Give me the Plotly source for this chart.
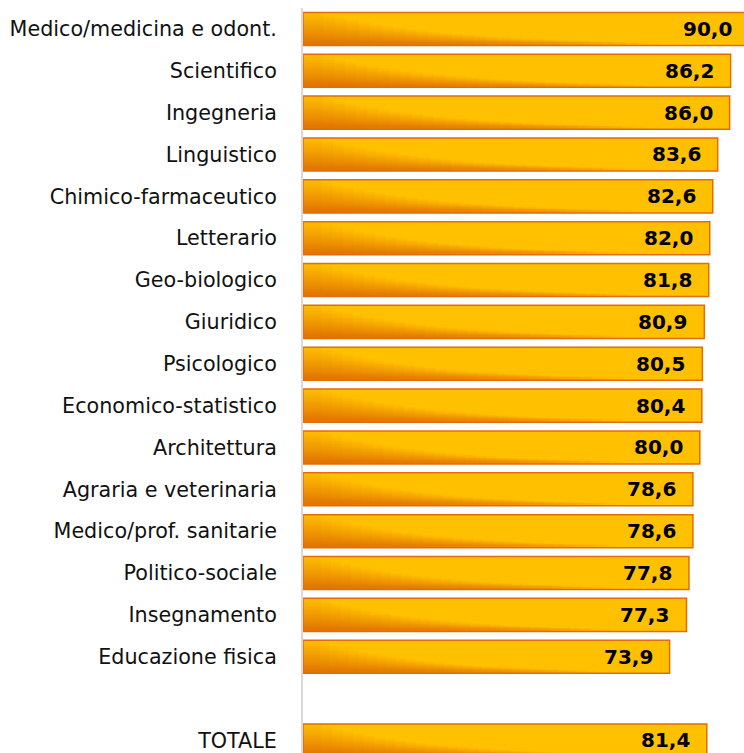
import math
import plotly.graph_objects as go

categories = [
    "Medico/medicina e odont.", "Scientifico", "Ingegneria", "Linguistico",
    "Chimico-farmaceutico", "Letterario", "Geo-biologico", "Giuridico",
    "Psicologico", "Economico-statistico", "Architettura", "Agraria e veterinaria",
    "Medico/prof. sanitarie", "Politico-sociale", "Insegnamento", "Educazione fisica",
]
values = [90.0, 86.2, 86.0, 83.6, 82.6, 82.0, 81.8, 80.9, 80.5, 80.4, 80.0, 78.6, 78.6, 77.8, 77.3, 73.9]
total_label = "TOTALE"
total_value = 81.4

labels = categories + [total_label]
vals = values + [total_value]
ypos = list(range(len(categories))) + [len(categories) + 1]
text = [f"{v:.1f}".replace(".", ",") for v in vals]

XMAX = 88.9
PLOT_W = 744 - 303
W = 0.79
ORANGE = "#E46C0A"
YELLOW = "#FFC000"

fig = go.Figure()
# base fill
fig.add_trace(go.Bar(x=vals, y=ypos, orientation="h", width=W,
                     marker=dict(color=YELLOW, line=dict(width=0)), hoverinfo="skip"))
# soft gradient layers anchored at the bottom-left corner of each bar
N = 30
for k in range(1, N + 1):
    lf = 0.02 + 0.78 * k / N
    hf = min(1.0, 1.15 * math.exp(-lf / 0.3))
    h = W * max(hf, 0.07)
    lengths = [v * lf for v in vals]
    fig.add_trace(go.Bar(x=lengths, y=ypos, orientation="h", width=h, offset=W / 2 - h,
                         marker=dict(color="rgba(228,108,10,0.07)", line=dict(width=0)),
                         hoverinfo="skip"))
# border
fig.add_trace(go.Bar(x=vals, y=ypos, orientation="h", width=W,
                     marker=dict(color="rgba(0,0,0,0)", line=dict(color=ORANGE, width=1.5)),
                     hoverinfo="skip"))

gap_units = 15 * XMAX / PLOT_W
for v, y, t in zip(vals, ypos, text):
    fig.add_annotation(x=v - gap_units, y=y, xref="x", yref="y", text=t, showarrow=False,
                       xanchor="right", yanchor="middle",
                       font=dict(family="DejaVu Sans", size=20, color="#000000", weight="bold"))

fig.update_layout(
    width=744, height=753, barmode="overlay", showlegend=False,
    margin=dict(l=303, r=0, t=8, b=0),
    plot_bgcolor="white", paper_bgcolor="white",
    xaxis=dict(range=[0, XMAX], visible=False, fixedrange=True),
    yaxis=dict(range=[len(categories) + 1.3, -0.5], tickmode="array", tickvals=ypos, ticktext=labels,
               showgrid=False, zeroline=False, showline=True, linecolor="#D9D9D9", linewidth=2,
               ticks="", ticklabelstandoff=20,
               tickfont=dict(family="DejaVu Sans", size=20.7, color="#111111")),
)
fig.write_html("out.html")
